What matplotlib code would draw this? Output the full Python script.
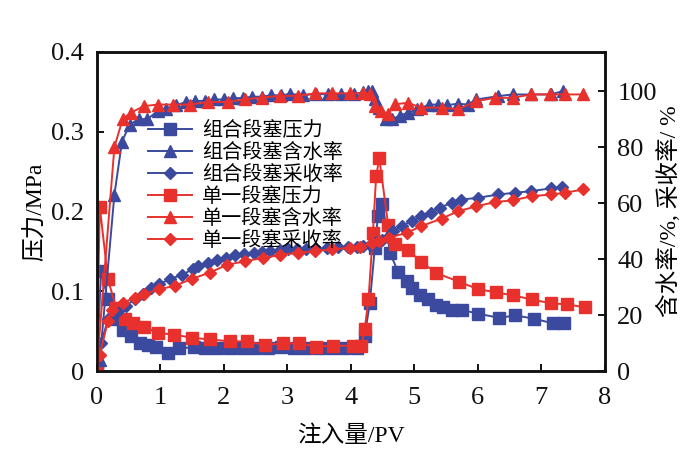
import matplotlib
matplotlib.use("Agg")
import matplotlib.pyplot as plt

plt.rcParams['font.family'] = ['Liberation Serif', 'Noto Sans CJK SC', 'DejaVu Sans']
plt.rcParams['mathtext.fontset'] = 'stix'

BLUE = '#3B4A9E'
RED = '#E8312C'

# 组合段塞压力 (left axis, MPa)
x_bp = [0, 0.07, 0.18, 0.28, 0.41, 0.54, 0.68, 0.81, 0.94, 1.12, 1.3, 1.54, 1.71, 1.9, 2.1, 2.3,
        2.5, 2.7, 2.9, 3.1, 3.3, 3.5, 3.7, 3.9, 4.1, 4.22, 4.3, 4.38, 4.43, 4.5, 4.62, 4.75,
        4.88, 4.96, 5.09, 5.22, 5.35, 5.45, 5.59, 5.75, 6.01, 6.34, 6.59, 6.88, 7.19, 7.35]
y_bp = [0, 0.125, 0.09, 0.065, 0.052, 0.044, 0.035, 0.033, 0.031, 0.023, 0.029, 0.030, 0.029,
        0.029, 0.029, 0.029, 0.029, 0.029, 0.030, 0.029, 0.029, 0.029, 0.029, 0.029, 0.029,
        0.044, 0.085, 0.155, 0.195, 0.21, 0.148, 0.124, 0.113, 0.104, 0.096, 0.09, 0.083,
        0.080, 0.077, 0.077, 0.072, 0.067, 0.070, 0.066, 0.060, 0.060]

# 组合段塞含水率 (right axis, %)
x_bw = [0, 0.05, 0.28, 0.40, 0.52, 0.66, 0.8, 0.97, 1.1, 1.25, 1.4, 1.55, 1.7, 1.85, 2.0, 2.15,
        2.3, 2.45, 2.6, 2.75, 2.9, 3.05, 3.25, 3.45, 3.65, 3.85, 4.05, 4.2, 4.27, 4.33, 4.38,
        4.45, 4.56, 4.65, 4.77, 4.9, 5.05, 5.24, 5.37, 5.52, 5.69, 5.84, 5.98, 6.32, 6.55,
        6.84, 7.15, 7.34]
y_bw = [0, 4, 63, 82, 88, 90, 90, 93, 93.5, 95, 96, 96.5, 96.5, 97, 97, 97.5, 97.5, 98, 98,
        98.5, 98.5, 99, 98.5, 99, 98.8, 99, 99, 99.5, 100, 100, 97, 94, 90, 90, 91.2, 92.3,
        93.5, 95.2, 95.2, 95, 95.5, 95.2, 97, 98.2, 98.8, 98.8, 98.8, 100]

# 组合段塞采收率 (right axis, %)
x_br = [0, 0.07, 0.18, 0.33, 0.46, 0.6, 0.73, 0.85, 0.99, 1.15, 1.34, 1.51, 1.6, 1.75, 1.89,
        2.03, 2.18, 2.32, 2.47, 2.6, 2.73, 2.88, 3.02, 3.16, 3.3, 3.46, 3.62, 3.8, 3.95, 4.1,
        4.2, 4.3, 4.4, 4.5, 4.58, 4.67, 4.8, 4.96, 5.11, 5.27, 5.4, 5.59, 5.74, 6.0, 6.32,
        6.58, 6.84, 7.16, 7.32]
y_br = [0, 10, 18.6, 21.6, 23.4, 25.7, 27.5, 29.9, 31.1, 32.9, 34.4, 36.4, 37.5, 38.5, 39.9,
        40.5, 41.4, 42, 42.3, 42.6, 42.9, 43.2, 43.5, 43.5, 43.5, 43.8, 44.1, 44.4, 44.4, 44.5,
        44.7, 45, 46, 47, 48, 50, 51.8, 53.6, 55.4, 56.6, 58.4, 60.1, 61.3, 61.9, 63.1, 63.7,
        64.3, 65.3, 65.9]

# 单一段塞压力 (left axis, MPa)
x_rp = [0, 0.05, 0.18, 0.31, 0.44, 0.57, 0.75, 0.96, 1.22, 1.5, 1.78, 2.1, 2.36, 2.65, 2.94,
        3.19, 3.46, 3.72, 4.04, 4.17, 4.22, 4.28, 4.35, 4.4, 4.45, 4.59, 4.69, 4.9, 5.11, 5.35,
        5.71, 6.0, 6.28, 6.56, 6.85, 7.16, 7.4, 7.69]
y_rp = [0, 0.206, 0.115, 0.079, 0.065, 0.060, 0.056, 0.048, 0.046, 0.042, 0.040, 0.0375,
        0.0375, 0.033, 0.035, 0.035, 0.031, 0.032, 0.032, 0.032, 0.053, 0.090, 0.173, 0.244,
        0.267, 0.183, 0.160, 0.152, 0.137, 0.123, 0.112, 0.103, 0.099, 0.095, 0.090, 0.085,
        0.084, 0.080]

# 单一段塞含水率 (right axis, %)
x_rw = [0, 0.28, 0.41, 0.54, 0.74, 0.96, 1.2, 1.47, 1.76, 2.07, 2.34, 2.6, 2.89, 3.17, 3.44,
        3.71, 3.99, 4.2, 4.3, 4.38, 4.48, 4.59, 4.69, 4.9, 5.11, 5.43, 5.69, 5.98, 6.27, 6.55,
        6.84, 7.13, 7.37, 7.66]
y_rw = [0, 80, 90, 92.3, 94.6, 95.2, 95.2, 95.2, 96.1, 96.1, 97.1, 97.7, 98.3, 98.3, 99.2,
        99.2, 99.2, 99.2, 98.9, 94.7, 92.9, 91.7, 95.3, 95.8, 94.1, 94.1, 93.5, 96.4, 97.6,
        97.6, 98.8, 98.8, 98.8, 98.8]

# 单一段塞采收率 (right axis, %)
x_rr = [0, 0.05, 0.18, 0.25, 0.42, 0.6, 0.74, 0.99, 1.23, 1.5, 1.78, 2.05, 2.34, 2.62, 2.89,
        3.17, 3.44, 3.7, 3.99, 4.15, 4.33, 4.45, 4.6, 4.88, 5.11, 5.43, 5.69, 5.98, 6.27, 6.55,
        6.85, 7.16, 7.37, 7.66]
y_rr = [0, 6, 18, 22, 24.5, 26.3, 27.5, 29.3, 30.5, 33, 35.2, 38, 39.3, 40.5, 41.5, 42.3, 42.9,
        43.5, 44.1, 44.3, 45.9, 46.5, 47.7, 49.4, 51.8, 54.5, 57.1, 58.9, 60.4, 61, 62.5, 63.1,
        63.7, 64.9]

labels = ['组合段塞压力', '组合段塞含水率', '组合段塞采收率',
          '单一段塞压力', '单一段塞含水率', '单一段塞采收率']

x_ticks = [0, 1, 2, 3, 4, 5, 6, 7, 8]
yl_ticks = [0, 0.1, 0.2, 0.3, 0.4]
yl_labels = ['0', '0.1', '0.2', '0.3', '0.4']
yr_ticks = [0, 20, 40, 60, 80, 100]

fig = plt.figure(figsize=(7.0, 4.63), dpi=100)
ax = fig.add_axes([0.138, 0.198, 0.726, 0.690])
ax2 = ax.twinx()

lw = 1.4
h1, = ax.plot(x_bp, y_bp, color=BLUE, marker='s', ms=8, lw=lw, label=labels[0])
h4, = ax.plot(x_rp, y_rp, color=RED, marker='s', ms=8, lw=lw, label=labels[3])
h2, = ax2.plot(x_bw, y_bw, color=BLUE, marker='^', ms=8.5, lw=lw, label=labels[1])
h3, = ax2.plot(x_br, y_br, color=BLUE, marker='D', ms=6, lw=lw, label=labels[2])
h5, = ax2.plot(x_rw, y_rw, color=RED, marker='^', ms=8.5, lw=lw, label=labels[4])
h6, = ax2.plot(x_rr, y_rr, color=RED, marker='D', ms=6, lw=lw, label=labels[5])

ax.set_xlim(0, 8)
ax.set_ylim(0, 0.4)
ax2.set_ylim(0, 114)
ax.set_xticks(x_ticks)
ax.set_yticks(yl_ticks)
ax.set_yticklabels(yl_labels)
ax2.set_yticks(yr_ticks)

for a in (ax, ax2):
    for s in a.spines.values():
        s.set_linewidth(1.8)
        s.set_color('#111111')
ax.tick_params(axis='both', direction='in', length=5, width=1.4, labelsize=19, pad=9,
               colors='#111111')
ax2.tick_params(axis='y', direction='in', length=5, width=1.4, labelsize=19, pad=9,
                colors='#111111')
ax.xaxis.set_tick_params(pad=11)

ax.set_xlabel('注入量/PV', fontsize=17, labelpad=12)
ax.set_ylabel('压力/MPa', fontsize=17, labelpad=3)
ax2.set_ylabel('含水率/%, 采收率/ %', fontsize=17, labelpad=0)

leg = ax2.legend(handles=[h1, h2, h3, h4, h5, h6], loc='upper left',
                 bbox_to_anchor=(0.085, 0.812), frameon=False,
                 handlelength=2.2, handletextpad=0.5, labelspacing=0.05,
                 borderaxespad=0.0,
                 prop={'family': ['Noto Sans CJK SC'], 'size': 14.5})

fig.savefig('out.png', dpi=100)
